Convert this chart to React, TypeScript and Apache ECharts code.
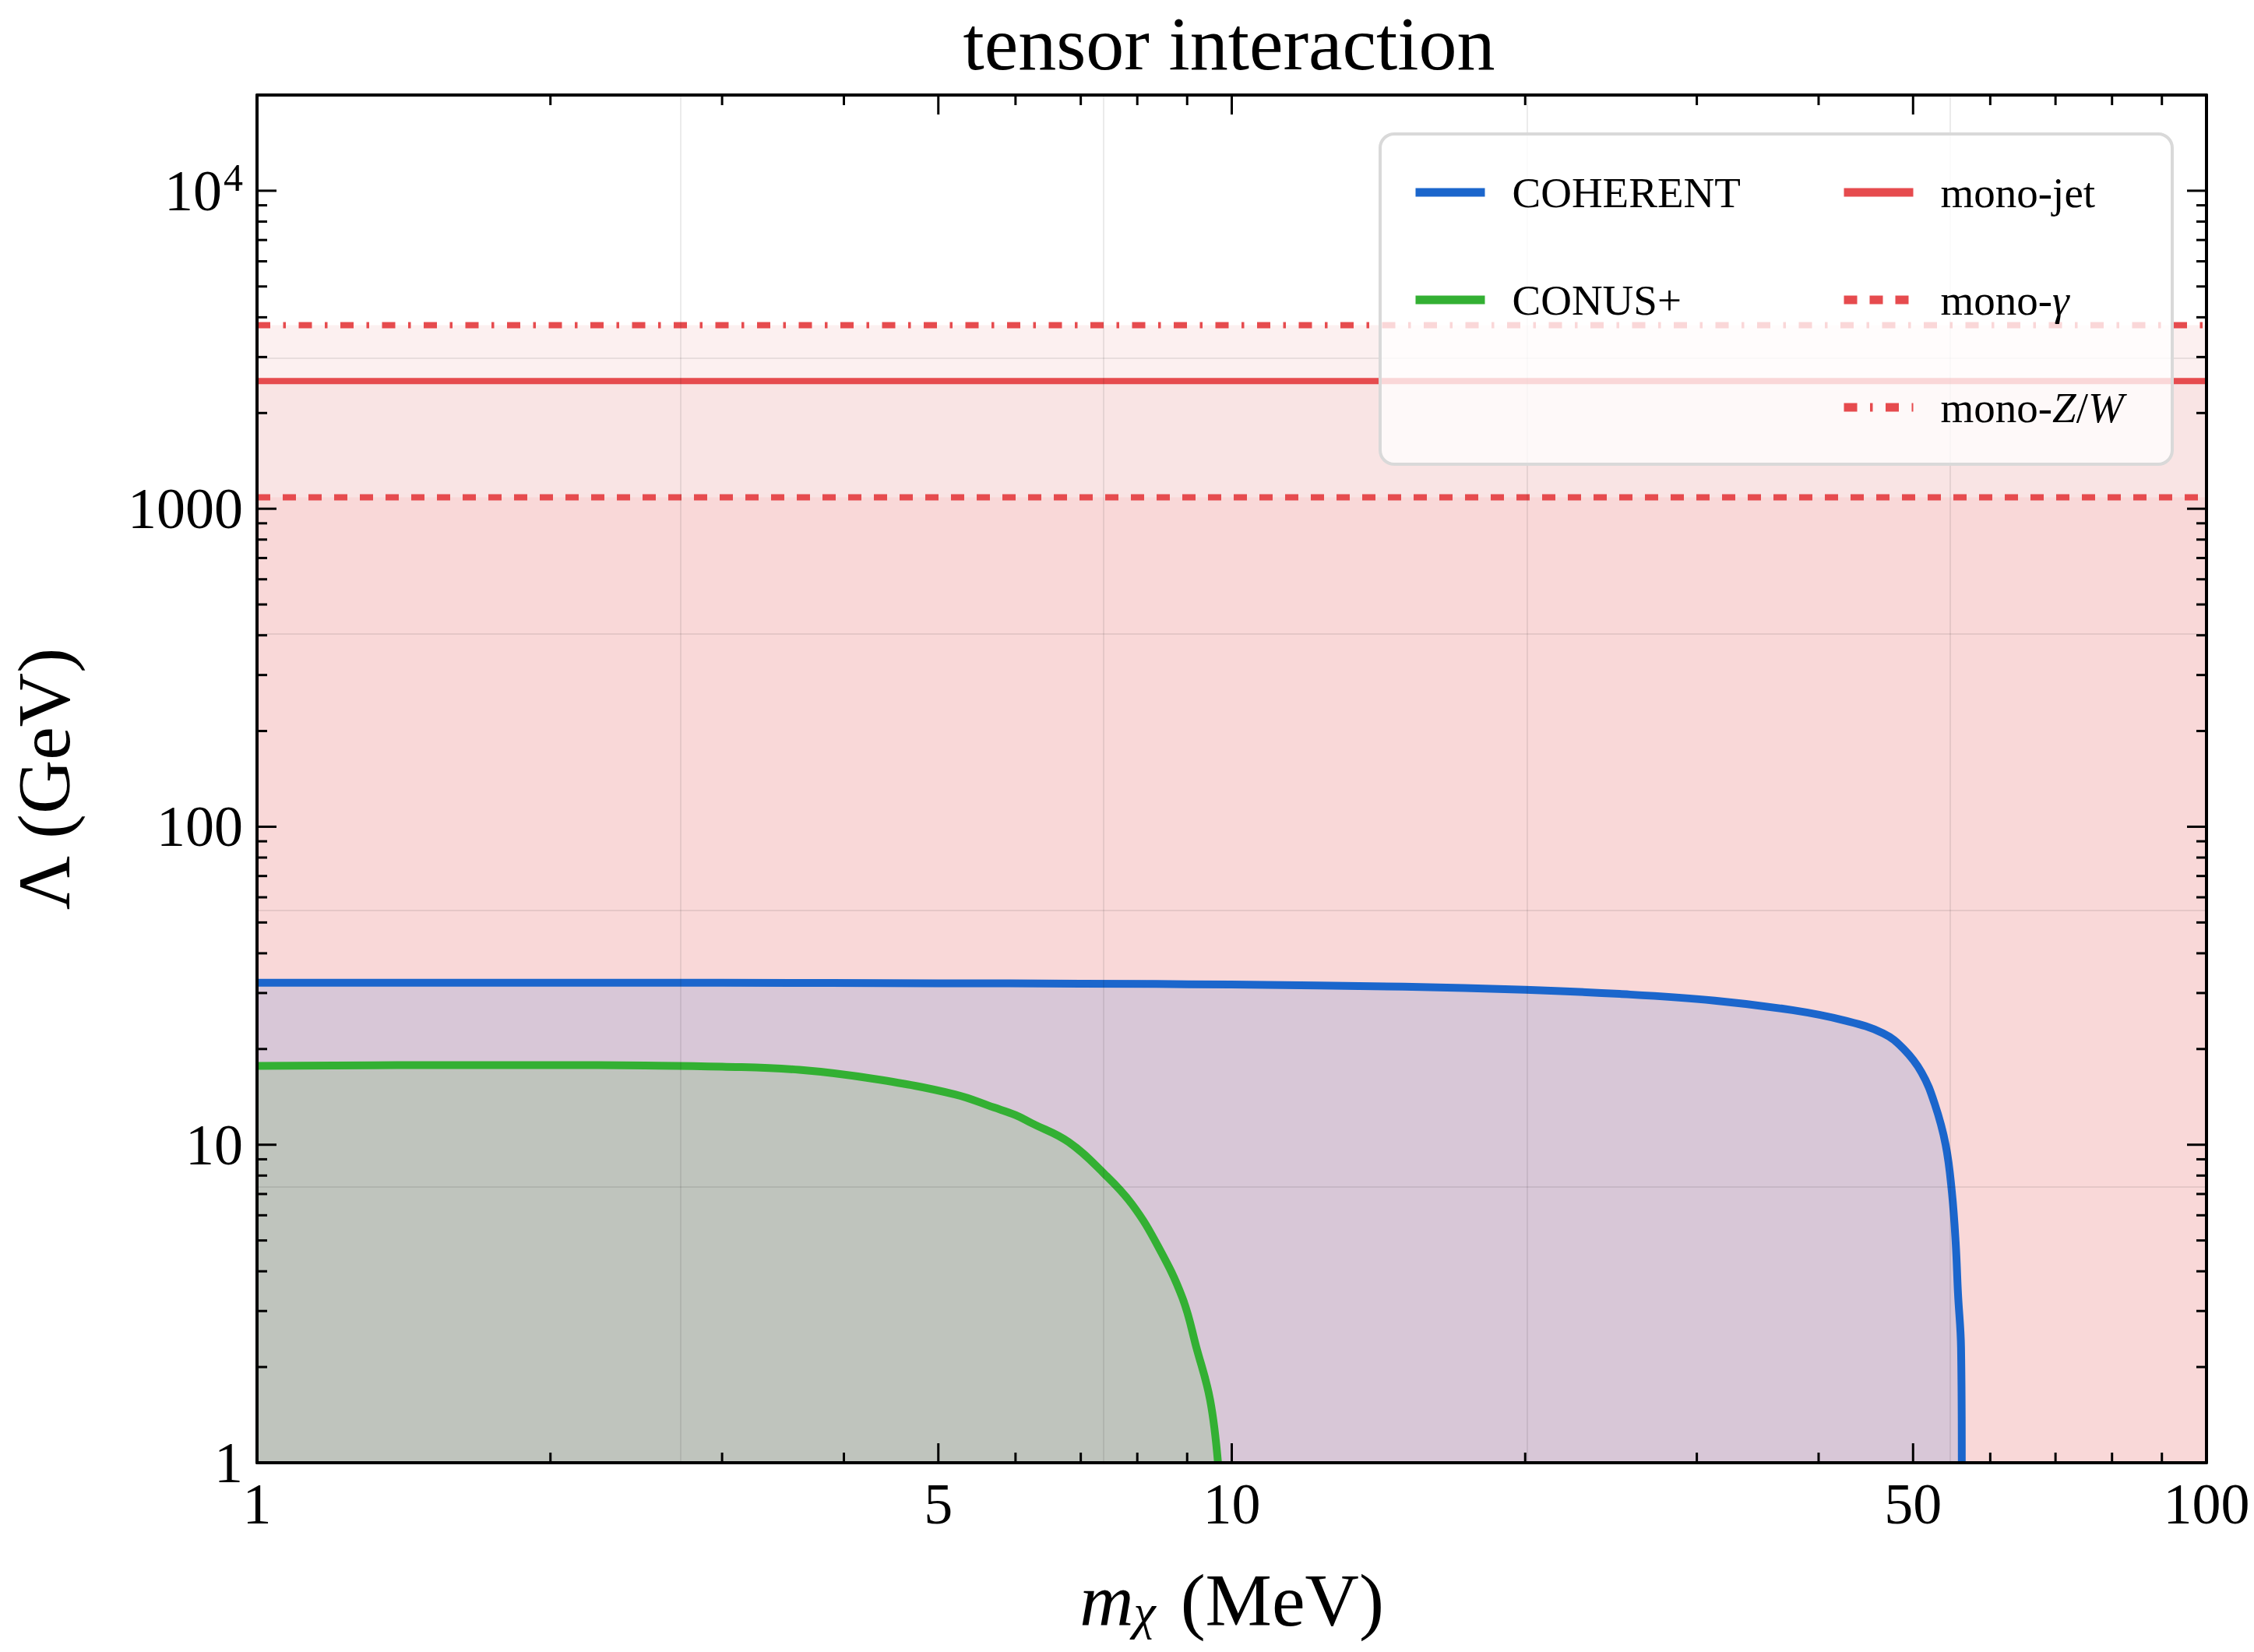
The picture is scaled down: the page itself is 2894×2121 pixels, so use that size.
import React, { useEffect, useRef } from 'react';
import * as echarts from 'echarts';

// ---- data ----
const massCOHERENT = [1, 2, 3, 5, 7, 10, 15, 20, 25, 31.3, 37.6, 42.5, 46.6, 48.9, 51.0, 52.6, 54.0, 54.8, 55.3, 55.6, 56.0, 56.1];
const lambdaCOHERENT = [32.3, 32.3, 32.3, 32.2, 32.1, 31.9, 31.4, 30.7, 29.8, 28.4, 26.5, 24.6, 22.4, 20.0, 16.9, 13.5, 10.0, 7.1, 4.9, 3.4, 2.3, 1.0];
const massCONUS = [1, 1.5, 2, 2.5, 3, 3.6, 4.3, 5.2, 5.7, 6.0, 6.23, 6.8, 7.4, 7.9, 8.4, 8.9, 9.2, 9.5, 9.68];
const lambdaCONUS = [17.7, 17.8, 17.8, 17.75, 17.6, 17.2, 16.1, 14.4, 13.1, 12.4, 11.7, 10.2, 8.1, 6.5, 4.8, 3.3, 2.3, 1.58, 1.0];
const monoRange = [1, 100];
const monoJet = 2520;
const monoGamma = 1086;
const monoZW = 3780;

const xLabels = [1, 5, 10, 50, 100];
const yLabels = [1, 10, 100, 1000, 10000];
const xMajorTicks = [1, 5, 10, 50, 100];
const xMinorTicks = [2, 3, 4, 6, 7, 8, 9, 20, 30, 40, 60, 70, 80, 90];
const yMajorTicks = [1, 10, 100, 1000, 10000];
const yMinorTicks = [2, 3, 4, 5, 6, 7, 8, 9, 20, 30, 40, 50, 60, 70, 80, 90, 200, 300, 400, 500, 600, 700, 800, 900, 2000, 3000, 4000, 5000, 6000, 7000, 8000, 9000, 20000];
const gridX = [Math.E, Math.E ** 2, Math.E ** 3, Math.E ** 4];
const gridY = [Math.E ** 2, Math.E ** 4, Math.E ** 6, Math.E ** 8];

const X_MIN = 1, X_MAX = 100, Y_MIN = 1, Y_MAX = 20000;

const FONT = '"Liberation Serif", "DejaVu Serif", serif';
const RED = '#E64B4E';
const BLUE = '#1B66CC';
const GREEN = '#33B033';

const zip = (a: number[], b: number[]) => a.map((v, i) => [v, b[i]]);
const flat = (v: number) => monoRange.map((m) => [m, v]);

export default function App() {
  const ref = useRef<HTMLDivElement>(null);
  useEffect(() => {
    if (!ref.current) return;
    const chart = echarts.init(ref.current, undefined, { renderer: 'svg' });

    const areaSeries = (name: string, data: number[][], color: string, smooth = false) => ({
      type: 'line',
      name,
      data,
      symbol: 'none',
      silent: true,
      smooth: smooth ? 0.4 : false,
      z: 1,
      lineStyle: { width: 0, opacity: 0 },
      areaStyle: { color, opacity: 1, origin: 'start' },
    });

    const lineSeries = (name: string, data: number[][], color: string, width: number, type: any, smooth = false) => ({
      type: 'line',
      name,
      data,
      symbol: 'none',
      smooth: smooth ? 0.4 : false,
      z: 3,
      lineStyle: { color, width, type, cap: 'butt', join: 'round' },
      itemStyle: { color },
    });

    const tickRender = (axis: 'x' | 'y') => (params: any, api: any) => {
      const cs = params.coordSys;
      const major = api.value(2) === 1;
      const len = major ? 25 : 13;
      const st = { stroke: '#000', lineWidth: 3 };
      if (axis === 'x') {
        const px = api.coord([api.value(0), Y_MIN])[0];
        return {
          type: 'group',
          children: [
            { type: 'line', shape: { x1: px, y1: cs.y + cs.height, x2: px, y2: cs.y + cs.height - len }, style: st },
            { type: 'line', shape: { x1: px, y1: cs.y, x2: px, y2: cs.y + len }, style: st },
          ],
        };
      }
      const py = api.coord([X_MIN, api.value(1)])[1];
      return {
        type: 'group',
        children: [
          { type: 'line', shape: { x1: cs.x, y1: py, x2: cs.x + len, y2: py }, style: st },
          { type: 'line', shape: { x1: cs.x + cs.width, y1: py, x2: cs.x + cs.width - len, y2: py }, style: st },
        ],
      };
    };

    const xTickData = [
      ...xMajorTicks.map((v) => [v, Y_MIN, 1]),
      ...xMinorTicks.map((v) => [v, Y_MIN, 0]),
    ];
    const yTickData = [
      ...yMajorTicks.map((v) => [X_MIN, v, 1]),
      ...yMinorTicks.map((v) => [X_MIN, v, 0]),
    ];

    const gridLineStyle = { color: 'rgba(0,0,0,0.08)', width: 2, type: 'solid' };

    const legendCommon = {
      orient: 'vertical',
      top: 217,
      itemWidth: 89,
      itemHeight: 12,
      itemGap: 78,
      padding: 0,
      z: 8,
      selectedMode: false,
      itemStyle: { opacity: 0 },
      lineStyle: { width: 11 },
      textStyle: {
        fontFamily: FONT,
        fontSize: 55,
        color: '#000',
        lineHeight: 60,
        padding: [0, 0, 0, 30],
        rich: {
          it: { fontFamily: FONT, fontSize: 55, fontStyle: 'italic', color: '#000', lineHeight: 60 },
        },
      },
      formatter: (name: string) => {
        if (name === 'mono-γ') return 'mono-{it|γ}';
        if (name === 'mono-Z/W') return 'mono-{it|Z}/{it|W}';
        return name;
      },
    };

    const axisLineStyle = { show: true, lineStyle: { color: '#000', width: 4 } };

    const option: any = {
      animation: false,
      backgroundColor: '#fff',
      title: {
        text: 'tensor interaction',
        left: 1578,
        top: 7,
        padding: 0,
        textAlign: 'center',
        textStyle: { fontFamily: FONT, fontSize: 98, lineHeight: 98, fontWeight: 'normal', color: '#000' },
      },
      grid: { left: 323, right: 61, top: 122, bottom: 243 },
      legend: [
        { ...legendCommon, left: 1812, data: ['COHERENT', 'CONUS+'] },
        { ...legendCommon, left: 2362, data: ['mono-jet', 'mono-γ', 'mono-Z/W'] },
      ],
      graphic: [
        {
          type: 'rect',
          z: 7,
          shape: { x: 1772, y: 172, width: 1017, height: 424, r: 18 },
          style: { fill: 'rgba(255,255,255,0.78)', stroke: '#D9D9D9', lineWidth: 4 },
        },
      ],
      xAxis: [
        {
          type: 'log',
          logBase: 10,
          min: X_MIN,
          max: X_MAX,
          position: 'bottom',
          z: 10,
          axisLine: axisLineStyle,
          axisTick: { show: false },
          splitLine: { show: false },
          axisLabel: {
            customValues: xLabels,
            fontFamily: FONT,
            fontSize: 74,
            color: '#000',
            margin: 16,
            formatter: (v: number) => String(Math.round(v)),
          },
          name: '{i|m}{sub|χ}{n| (MeV)}',
          nameLocation: 'middle',
          nameGap: 128,
          nameTextStyle: {
            fontFamily: FONT,
            color: '#000',
            rich: {
              i: { fontFamily: FONT, fontSize: 96, fontStyle: 'italic', color: '#000' },
              sub: { fontFamily: FONT, fontSize: 64, fontStyle: 'italic', color: '#000', padding: [30, 8, 0, 0] },
              n: { fontFamily: FONT, fontSize: 96, color: '#000' },
            },
          },
        },
        {
          type: 'log',
          logBase: 10,
          min: X_MIN,
          max: X_MAX,
          position: 'top',
          z: 10,
          axisLine: axisLineStyle,
          axisTick: { show: false },
          axisLabel: { show: false },
          splitLine: { show: false },
        },
      ],
      yAxis: [
        {
          type: 'log',
          logBase: 10,
          min: Y_MIN,
          max: Y_MAX,
          position: 'left',
          z: 10,
          axisLine: axisLineStyle,
          axisTick: { show: false },
          splitLine: { show: false },
          axisLabel: {
            customValues: yLabels,
            fontFamily: FONT,
            fontSize: 74,
            color: '#000',
            margin: 18,
            formatter: (v: number) => {
              const r = Math.round(v);
              return r === 10000 ? '{b|10}{s|4}' : '{b|' + r + '}';
            },
            rich: {
              b: { fontFamily: FONT, fontSize: 74, color: '#000' },
              s: { fontFamily: FONT, fontSize: 50, color: '#000', padding: [0, 0, 34, 2] },
            },
          },
          name: 'Λ (GeV)',
          nameLocation: 'middle',
          nameGap: 226,
          nameTextStyle: { fontFamily: FONT, fontSize: 96, color: '#000' },
        },
        {
          type: 'log',
          logBase: 10,
          min: Y_MIN,
          max: Y_MAX,
          position: 'right',
          z: 10,
          axisLine: axisLineStyle,
          axisTick: { show: false },
          axisLabel: { show: false },
          splitLine: { show: false },
        },
      ],
      series: [
        areaSeries('fill-ZW', flat(monoZW), '#FCF0F0'),
        areaSeries('fill-jet', flat(monoJet), '#F9E4E4'),
        areaSeries('fill-gamma', flat(monoGamma), '#F9D8D8'),
        areaSeries('fill-COHERENT', zip(massCOHERENT, lambdaCOHERENT), '#D8C7D7', true),
        areaSeries('fill-CONUS', zip(massCONUS, lambdaCONUS), '#BFC4BD', true),
        {
          type: 'line',
          name: 'gridlines',
          data: [],
          z: 2,
          silent: true,
          markLine: {
            silent: true,
            symbol: ['none', 'none'],
            label: { show: false },
            lineStyle: gridLineStyle,
            data: [...gridX.map((v) => ({ xAxis: v })), ...gridY.map((v) => ({ yAxis: v }))],
          },
        },
        lineSeries('COHERENT', zip(massCOHERENT, lambdaCOHERENT), BLUE, 10, 'solid', true),
        lineSeries('CONUS+', zip(massCONUS, lambdaCONUS), GREEN, 10, 'solid', true),
        lineSeries('mono-jet', flat(monoJet), RED, 8, 'solid'),
        lineSeries('mono-γ', flat(monoGamma), RED, 8, [17, 16]),
        lineSeries('mono-Z/W', flat(monoZW), RED, 8, [17, 16.5, 3.5, 16.5]),
        {
          type: 'custom',
          name: 'xticks',
          z: 9,
          silent: true,
          clip: false,
          encode: { x: 0, y: 1 },
          data: xTickData,
          renderItem: tickRender('x'),
        },
        {
          type: 'custom',
          name: 'yticks',
          z: 9,
          silent: true,
          clip: false,
          encode: { x: 0, y: 1 },
          data: yTickData,
          renderItem: tickRender('y'),
        },
      ],
    };

    chart.setOption(option);
    return () => chart.dispose();
  }, []);

  return (
    <div
      ref={ref}
      style={{ position: 'absolute', left: 0, top: 0, width: 2894, height: 2121 }}
    />
  );
}
